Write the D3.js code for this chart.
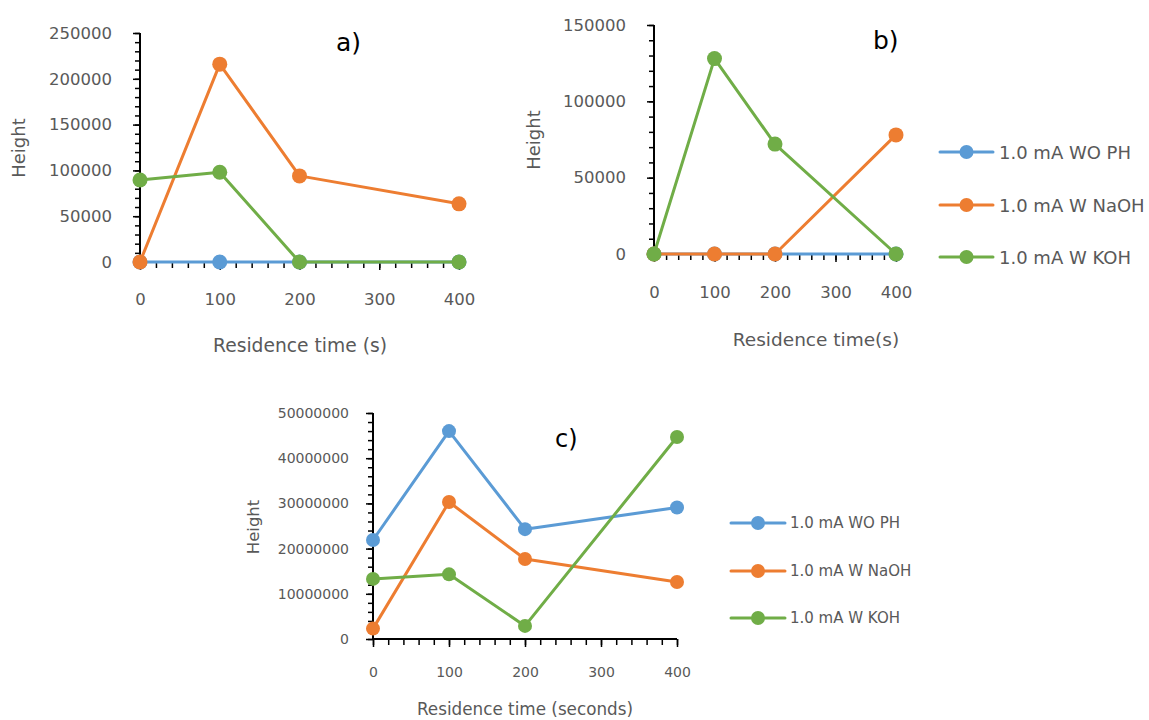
<!DOCTYPE html>
<html><head><meta charset="utf-8">
<script src="https://cdn.jsdelivr.net/npm/d3@7"></script>
<style>
html,body{margin:0;padding:0;background:#fff;}
svg{display:block;font-family:"DejaVu Sans",Verdana,sans-serif;}
</style></head>
<body><svg id="chart" width="1149" height="720"></svg>
<script>
// ---------- DATA ----------
const xValues = [0, 100, 200, 400];
const xTicks = [0, 100, 200, 300, 400];
const seriesNames = ["1.0 mA WO PH", "1.0 mA W NaOH", "1.0 mA W KOH"];
const seriesColors = ["#5B9BD5", "#ED7D31", "#70AD47"];

// panel a)
const aWoPH  = [0, 0, 0, 0];
const aNaOH  = [0, 216000, 94000, 63500];
const aKOH   = [89500, 98000, 0, 0];
const aYTicks = [0, 50000, 100000, 150000, 200000, 250000];

// panel b)
const bWoPH  = [0, 0, 0, 0];
const bNaOH  = [0, 0, 0, 78000];
const bKOH   = [0, 128000, 72000, 0];
const bYTicks = [0, 50000, 100000, 150000];

// panel c)
const cWoPH  = [21900000, 46000000, 24300000, 29100000];
const cNaOH  = [2300000, 30300000, 17700000, 12600000];
const cKOH   = [13300000, 14300000, 2900000, 44700000];
const cYTicks = [0, 10000000, 20000000, 30000000, 40000000, 50000000];

// ---------- DRAW ----------
const svg = d3.select("#chart");
const labelColor = "#595959";

function drawPanel(p) {
  const g = svg.append("g");
  const x = d3.scaleLinear().domain([0, 400]).range([p.left, p.right]);
  const y = d3.scaleLinear().domain([0, p.yMax]).range([p.bottom, p.top]);

  // minor ticks
  const yMinor = d3.range(0, p.yMax + p.yMinorStep / 2, p.yMinorStep);
  const xMinor = d3.range(0, 401, 20);
  g.append("g").attr("transform", `translate(${p.left},0)`)
    .call(d3.axisLeft(y).tickValues(yMinor).tickSize(5).tickFormat(""))
    .call(s => s.select(".domain").remove())
    .selectAll("line").attr("stroke", "#000").attr("stroke-width", 1.5);
  g.append("g").attr("transform", `translate(0,${p.bottom})`)
    .call(d3.axisBottom(x).tickValues(xMinor).tickSize(6).tickFormat(""))
    .call(s => s.select(".domain").remove())
    .selectAll("line").attr("stroke", "#000").attr("stroke-width", 1.5);

  // major y axis
  const ya = g.append("g").attr("transform", `translate(${p.left},0)`)
    .call(d3.axisLeft(y).tickValues(p.yTicks).tickSize(7).tickPadding(p.yPad).tickFormat(d3.format("d")));
  ya.select(".domain").attr("stroke", "#000").attr("stroke-width", 2).attr("d", `M0,${p.top}V${p.bottom}`);
  ya.selectAll(".tick line").attr("stroke", "#000").attr("stroke-width", 1.5);
  ya.selectAll(".tick text").attr("fill", labelColor).style("font-size", p.tickFont + "px")
    .style("font-family", '"DejaVu Sans",Verdana,sans-serif');

  // major x axis
  const xa = g.append("g").attr("transform", `translate(0,${p.bottom})`)
    .call(d3.axisBottom(x).tickValues(xTicks).tickSize(8).tickPadding(p.xPad).tickFormat(d3.format("d")));
  xa.select(".domain").attr("stroke", "#000").attr("stroke-width", 2).attr("d", `M${p.left},0H${p.right}`);
  xa.selectAll(".tick line").attr("stroke", "#000").attr("stroke-width", 1.5);
  xa.selectAll(".tick text").attr("fill", labelColor).style("font-size", p.tickFont + "px")
    .style("font-family", '"DejaVu Sans",Verdana,sans-serif');

  // series
  const line = d3.line().x((d, i) => x(xValues[i])).y(d => y(d));
  p.series.forEach((vals, k) => {
    g.append("path").datum(vals).attr("d", line)
      .attr("fill", "none").attr("stroke", seriesColors[k]).attr("stroke-width", 3)
      .attr("stroke-linejoin", "round");
    g.selectAll(null).data(vals).enter().append("circle")
      .attr("cx", (d, i) => x(xValues[i])).attr("cy", d => y(d))
      .attr("r", p.markerR).attr("fill", seriesColors[k]);
  });

  // panel tag
  g.append("text").attr("x", p.tagX).attr("y", p.tagY).text(p.tag)
    .attr("fill", "#000").style("font-size", p.tagFont + "px").attr("dominant-baseline", "central");

  // axis titles
  g.append("text").attr("transform", `translate(${p.yTitleX},${p.yTitleY}) rotate(-90)`)
    .attr("text-anchor", "middle").attr("dominant-baseline", "central")
    .attr("fill", labelColor).style("font-size", p.titleFont + "px").text("Height");
  g.append("text").attr("x", p.xTitleX).attr("y", p.xTitleY)
    .attr("text-anchor", "middle").attr("dominant-baseline", "central")
    .attr("fill", labelColor).style("font-size", p.xTitleFont + "px").text(p.xTitle);
}

function drawLegend(l) {
  const g = svg.append("g");
  seriesNames.forEach((name, k) => {
    const yy = l.rows[k];
    g.append("line").attr("x1", l.x1).attr("x2", l.x2).attr("y1", yy).attr("y2", yy)
      .attr("stroke", seriesColors[k]).attr("stroke-width", 3).attr("stroke-linecap", "round");
    g.append("circle").attr("cx", (l.x1 + l.x2) / 2).attr("cy", yy).attr("r", l.r).attr("fill", seriesColors[k]);
    g.append("text").attr("x", l.tx).attr("y", yy).attr("dominant-baseline", "central")
      .attr("fill", labelColor).style("font-size", l.font + "px").text(name);
  });
}

drawPanel({
  left: 140, right: 459, top: 33, bottom: 262, yMax: 250000, yTicks: aYTicks, yMinorStep: 10000,
  yPad: 21, xPad: 23, tickFont: 16.5, markerR: 7.5,
  series: [aWoPH, aNaOH, aKOH],
  tag: "a)", tagX: 336, tagY: 42, tagFont: 25,
  yTitleX: 18, yTitleY: 148, xTitleX: 300, xTitleY: 345, xTitle: "Residence time (s)",
  titleFont: 18, xTitleFont: 18.7
});

drawPanel({
  left: 654, right: 896, top: 25, bottom: 254, yMax: 150000, yTicks: bYTicks, yMinorStep: 10000,
  yPad: 21, xPad: 24, tickFont: 16.5, markerR: 7.5,
  series: [bWoPH, bNaOH, bKOH],
  tag: "b)", tagX: 873, tagY: 40, tagFont: 25,
  yTitleX: 533, yTitleY: 140, xTitleX: 816, xTitleY: 339, xTitle: "Residence time(s)",
  titleFont: 18, xTitleFont: 18.5
});

drawPanel({
  left: 373, right: 677, top: 413, bottom: 639, yMax: 50000000, yTicks: cYTicks, yMinorStep: 2000000,
  yPad: 17, xPad: 20, tickFont: 14, markerR: 7,
  series: [cWoPH, cNaOH, cKOH],
  tag: "c)", tagX: 555, tagY: 439, tagFont: 24,
  yTitleX: 253, yTitleY: 527, xTitleX: 525, xTitleY: 709, xTitle: "Residence time (seconds)",
  titleFont: 16.5, xTitleFont: 16.8
});

drawLegend({ x1: 940, x2: 993, tx: 999, rows: [152, 205, 257], r: 7, font: 18 });
drawLegend({ x1: 731, x2: 785, tx: 790, rows: [523, 571, 618], r: 7, font: 15 });
</script>
</body></html>
